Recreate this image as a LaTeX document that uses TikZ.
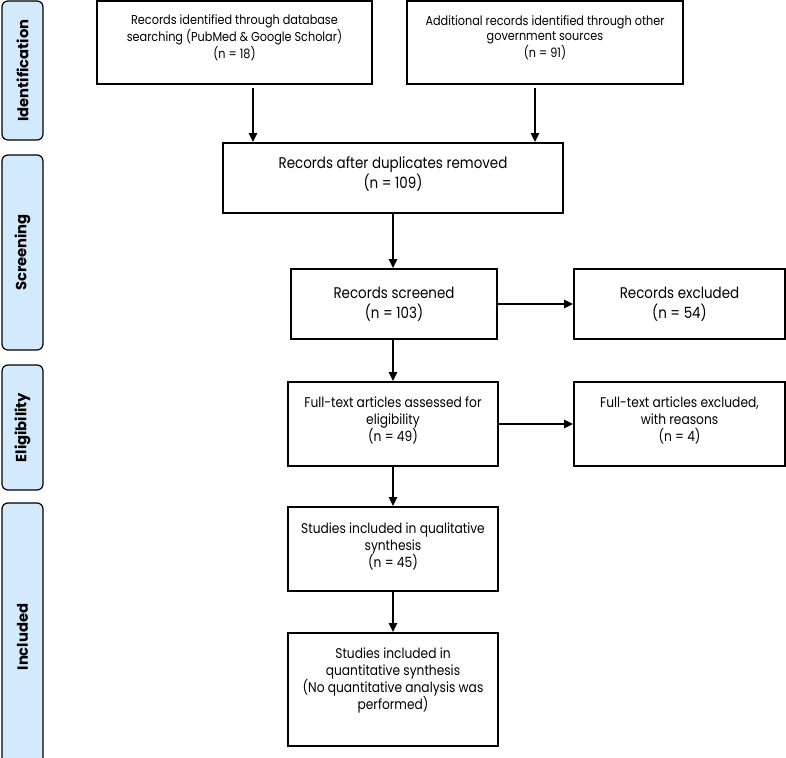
\documentclass[tikz,border=0pt]{standalone}
\usepackage{fontspec}
\setmainfont{Poppins}[FakeStretch=0.87]
\newfontfamily\phasefont{Poppins}
\usetikzlibrary{arrows.meta}
\definecolor{phaseblue}{RGB}{210,234,251}
\tikzset{
  phase/.style={draw, line width=0.03cm, fill=phaseblue, rounded corners=0.15cm,
    rotate=90, minimum height=1.025cm, inner sep=0pt,
    font=\phasefont\bfseries\fontsize{10.5}{12}\selectfont},
  box/.style={draw, line width=0.05cm, align=center, inner sep=0pt},
  arrow/.style={line width=0.05cm, -{Triangle[length=0.22cm,width=0.2cm]}},
}
\begin{document}
\begin{tikzpicture}
                \useasboundingbox (0,0) rectangle (19.650000,18.925000);
                \clip (0,0) rectangle (19.650000,18.925000);
                {\fontsize{10}{12}\selectfont

                % Phase bands on the left
                \node [phase, minimum width=3.475000cm] (ident) at (0.562500,17.162500) {Identification};%
                \node [phase, minimum width=4.875000cm] (screen) at (0.562500,12.612500) {Screening};%
                \node [phase, minimum width=3.125000cm] (elig) at (0.562500,8.237500) {Eligibility};%
                \node [phase, minimum width=6.700000cm] (incl) at (0.562500,3.000000) {Included};%

                % Box dbrec
                \node [box, minimum width=6.875000cm, minimum height=2.075000cm, font=\fontsize{9.2}{10.7}\selectfont, text depth=0.3cm]
                  (dbrec) at (5.862500,17.862500) {Records identified through database\\searching (PubMed \& Google Scholar)\\(n = 18)};%

                % Box othrec
                \node [box, minimum width=6.900000cm, minimum height=2.075000cm, font=\fontsize{9.2}{10.7}\selectfont, text depth=0.3cm]
                  (othrec) at (13.625000,17.862500) {Additional records identified through other\\government sources\\(n = 91)};%

                % Box dedup
                \node [box, minimum width=8.500000cm, minimum height=1.750000cm, font=\fontsize{11}{14.2}\selectfont, text depth=0.25cm]
                  (dedup) at (9.825000,14.475000) {Records after duplicates removed\\(n = 109)};%

                % Box screened
                \node [box, minimum width=5.150000cm, minimum height=1.750000cm, font=\fontsize{11}{14.2}\selectfont]
                  (screened) at (9.850000,11.325000) {Records screened\\(n = 103)};%

                % Box excl
                \node [box, minimum width=5.275000cm, minimum height=1.750000cm, font=\fontsize{11}{14.2}\selectfont]
                  (excl) at (16.987500,11.325000) {Records excluded\\(n = 54)};%

                % Box fulltext
                \node [box, minimum width=5.250000cm, minimum height=2.100000cm, font=\fontsize{10}{12.1}\selectfont, text depth=0.25cm]
                  (fulltext) at (9.825000,8.325000) {Full-text articles assessed for\\eligibility\\(n = 49)};%

                % Box ftexcl
                \node [box, minimum width=5.275000cm, minimum height=2.100000cm, font=\fontsize{10}{12.1}\selectfont, text depth=0.25cm]
                  (ftexcl) at (16.987500,8.325000) {Full-text articles excluded,\\with reasons\\(n = 4)};%

                % Box qual
                \node [box, minimum width=5.250000cm, minimum height=2.100000cm, font=\fontsize{10}{12.1}\selectfont, text depth=0.2cm]
                  (qual) at (9.825000,5.200000) {Studies included in qualitative\\synthesis\\(n = 45)};%

                % Box quant
                \node [box, minimum width=5.250000cm, minimum height=2.825000cm, font=\fontsize{10}{12.1}\selectfont, text depth=0.55cm]
                  (quant) at (9.825000,1.687500) {Studies included in\\quantitative synthesis\\(No quantitative analysis was\\performed)};%

                % Drawing arrow dbrec dedup
                \coordinate (dbout) at ([xshift=0.462500cm]dbrec.south);%
                \draw [arrow, shorten <=0.08cm] (dbout) -- (dbout |- dedup.north);%

                % Drawing arrow othrec dedup
                \coordinate (othout) at ([xshift=-0.250000cm]othrec.south);%
                \draw [arrow, shorten <=0.08cm] (othout) -- (othout |- dedup.north);%

                % Drawing arrow dedup screened
                \draw [arrow] (dedup.south) -- (dedup.south |- screened.north);%

                % Drawing arrow screened excl
                \draw [arrow] (screened.east) -- (excl.west);%

                % Drawing arrow screened fulltext
                \draw [arrow] (fulltext.north |- screened.south) -- (fulltext.north);%

                % Drawing arrow fulltext ftexcl
                \draw [arrow] (fulltext.east) -- (ftexcl.west);%

                % Drawing arrow fulltext qual
                \draw [arrow] (fulltext.south) -- (qual.north);%

                % Drawing arrow qual quant
                \draw [arrow] (qual.south) -- (quant.north);%
                }
\end{tikzpicture}
\end{document}
